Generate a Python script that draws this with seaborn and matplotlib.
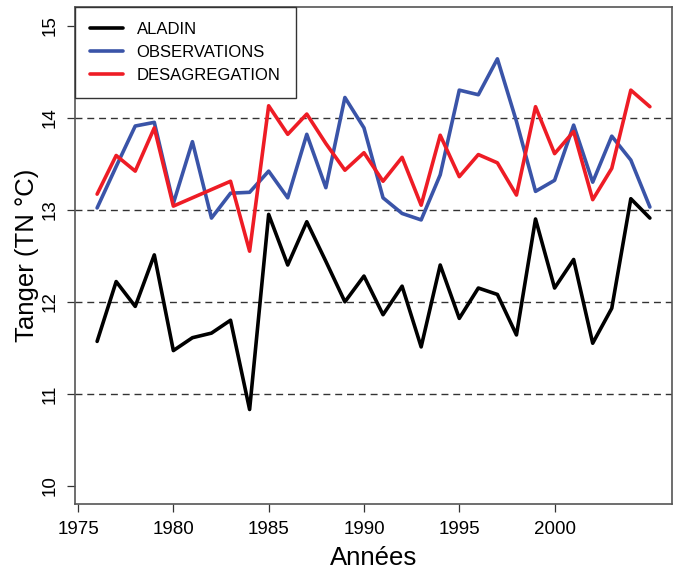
import matplotlib
matplotlib.use("Agg")
import matplotlib.pyplot as plt
import seaborn as sns
import pandas as pd

# values
years = list(range(1976, 2006))
aladin = [11.57, 12.22, 11.95, 12.51, 11.47, 11.61, 11.66, 11.80, 10.83, 12.95,
          12.40, 12.87, 12.44, 12.00, 12.28, 11.86, 12.17, 11.51, 12.40, 11.82,
          12.15, 12.08, 11.64, 12.90, 12.15, 12.46, 11.55, 11.93, 13.12, 12.91]
observations = [13.02, 13.47, 13.91, 13.95, 13.07, 13.74, 12.91, 13.18, 13.19, 13.42,
                13.13, 13.82, 13.24, 14.22, 13.89, 13.13, 12.96, 12.89, 13.38, 14.30,
                14.25, 14.64, 13.96, 13.20, 13.32, 13.92, 13.30, 13.80, 13.54, 13.03]
desagregation = [13.17, 13.59, 13.42, 13.89, 13.04, 13.13, 13.22, 13.31, 12.55, 14.13,
                 13.82, 14.04, 13.72, 13.43, 13.62, 13.31, 13.57, 13.05, 13.81, 13.36,
                 13.60, 13.51, 13.16, 14.12, 13.61, 13.85, 13.11, 13.45, 14.30, 14.12]
series_names = ["ALADIN", "OBSERVATIONS", "DESAGREGATION"]
x_ticks = [1975, 1980, 1985, 1990, 1995, 2000]
y_ticks = [10, 11, 12, 13, 14, 15]

df = pd.concat([
    pd.DataFrame({"Année": years, "TN": vals, "Série": name})
    for name, vals in zip(series_names, [aladin, observations, desagregation])
])

sns.set_style("white")
plt.rcParams["font.family"] = ["Liberation Sans", "DejaVu Sans"]
plt.rcParams["text.color"] = "black"
plt.rcParams["axes.labelcolor"] = "black"
plt.rcParams["xtick.color"] = "black"
plt.rcParams["ytick.color"] = "black"

fig = plt.figure(figsize=(6.78, 5.74), dpi=100)
ax = fig.add_axes([75 / 678, 1 - 504.3 / 574, 597 / 678, 497 / 574])

# dashed reference lines
for yv in [11, 12, 13, 14]:
    ax.axhline(yv, color="#333333", lw=1.0, ls=(0, (5, 3.5)), zorder=1)

palette = {"ALADIN": "black", "OBSERVATIONS": "#3a54a8", "DESAGREGATION": "#ee1c25"}
sns.lineplot(data=df, x="Année", y="TN", hue="Série", palette=palette,
             hue_order=series_names, estimator=None, sort=False, lw=2.6,
             ax=ax, zorder=3)

ax.set_xlim(1974.84, 2006.16)
ax.set_ylim(9.8, 15.2)
ax.set_xticks(x_ticks)
ax.set_yticks(y_ticks)
ax.set_xticklabels([str(v) for v in x_ticks])
ax.set_yticklabels([str(v) for v in y_ticks], rotation=90, va="center")
ax.tick_params(axis="both", direction="out", length=6, width=0.9, color="#333333",
               labelsize=13.5, pad=6, bottom=True, left=True)

for sp in ax.spines.values():
    sp.set_color("#555555")
    sp.set_linewidth(1.2)

ax.set_xlabel("Années", fontsize=18.5, labelpad=6)
ax.set_ylabel("Tanger (TN °C)", fontsize=18.5, labelpad=2)

leg = ax.legend(loc="upper left", borderaxespad=0, fancybox=False, framealpha=1,
                edgecolor="#333333", fontsize=12, handlelength=2.0,
                handletextpad=0.8, borderpad=0.9, labelspacing=0.48)
leg.get_frame().set_linewidth(1.0)
for line in leg.get_lines():
    line.set_linewidth(2.6)

fig.savefig("out.png", dpi=100)
